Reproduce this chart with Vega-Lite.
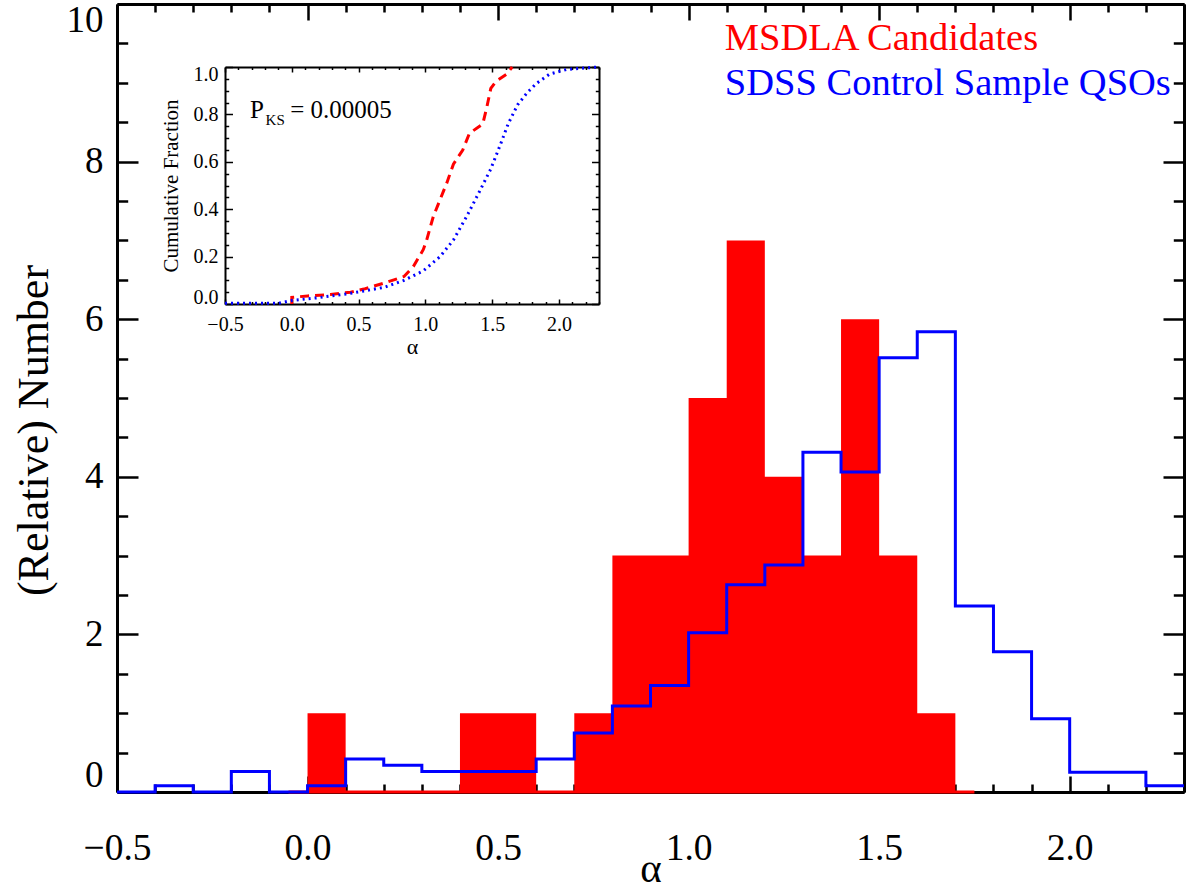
{
  "$schema": "https://vega.github.io/schema/vega-lite/v6.json",
  "width": 1067,
  "height": 788,
  "autosize": {"type": "none"},
  "padding": {"left": 117, "top": 4, "right": 7, "bottom": 98},
  "background": "white",
  "config": {"view": {"stroke": null}, "font": "Liberation Serif"},
  "resolve": {"scale": {"x": "independent", "y": "independent"}, "axis": {"x": "independent", "y": "independent"}},
  "layer": [
    {
      "data": {"values": [{"a0": -0.05, "a1": 1.75, "n": 0}]},
      "mark": {"type": "rule", "color": "#ff0000", "strokeWidth": 3},
      "encoding": {
        "x": {"field": "a0", "type": "quantitative", "scale": {"domain": [-0.5, 2.3], "nice": false, "zero": false},
          "axis": {"orient": "bottom", "grid": false, "values": [-0.5,-0.4,-0.3,-0.2,-0.1,0,0.1,0.2,0.3,0.4,0.5,0.6,0.7,0.8,0.9,1,1.1,1.2,1.3,1.4,1.5,1.6,1.7,1.8,1.9,2,2.1,2.2,2.3],
            "labelExpr": "abs(datum.value*2 - round(datum.value*2)) < 0.001 ? format(datum.value, '.1f') : ''",
            "tickSize": {"condition": {"test": "abs(datum.value*2 - round(datum.value*2)) < 0.001", "value": -16}, "value": -8},
            "tickWidth": 2.5, "tickColor": "black", "domainColor": "black", "domainWidth": 3,
            "labelFont": "Liberation Serif", "labelFontSize": 37.5, "labelColor": "black", "labelPadding": 72, "labelBaseline": "middle", "labelFlush": false, "labelOverlap": false,
            "title": "α", "titleFont": "Liberation Serif", "titleFontSize": 41, "titleFontWeight": "normal", "titleColor": "black", "titleX": 533.5, "titleY": 89, "titleBaseline": "alphabetic", "titleAlign": "center"}},
        "x2": {"field": "a1"},
        "y": {"field": "n", "type": "quantitative", "scale": {"domain": [0, 10], "nice": false, "zero": false},
          "axis": {"orient": "left", "grid": false, "values": [0,0.5,1,1.5,2,2.5,3,3.5,4,4.5,5,5.5,6,6.5,7,7.5,8,8.5,9,9.5,10],
            "labelExpr": "abs(datum.value/2 - round(datum.value/2)) < 0.001 ? format(datum.value, 'd') : ''",
            "tickSize": {"condition": {"test": "abs(datum.value/2 - round(datum.value/2)) < 0.001", "value": -21}, "value": -10.7},
            "tickWidth": 2.5, "tickColor": "black", "domainColor": "black", "domainWidth": 3,
            "labelFont": "Liberation Serif", "labelFontSize": 37, "labelColor": "black", "labelPadding": 35, "labelFlush": true, "labelFlushOffset": 2, "labelOverlap": false,
            "title": "(Relative) Number", "titleFont": "Liberation Serif", "titleFontSize": 44, "titleFontWeight": "normal", "titleColor": "black", "titleX": -70, "titleY": 426, "titleAngle": 270, "titleBaseline": "alphabetic", "titleAlign": "center"}}
      }
    },
    {
      "data": {"values": [
        {"a": 0.0, "n": 1}, {"a": 0.1, "n": 0}, {"a": 0.2, "n": 0}, {"a": 0.3, "n": 0},
        {"a": 0.4, "n": 1}, {"a": 0.5, "n": 1}, {"a": 0.6, "n": 0}, {"a": 0.7, "n": 1},
        {"a": 0.8, "n": 3}, {"a": 0.9, "n": 3}, {"a": 1.0, "n": 5}, {"a": 1.1, "n": 7},
        {"a": 1.2, "n": 4}, {"a": 1.3, "n": 3}, {"a": 1.4, "n": 6}, {"a": 1.5, "n": 3},
        {"a": 1.6, "n": 1}, {"a": 1.7, "n": 0}
      ]},
      "mark": {"type": "area", "interpolate": "step-after", "color": "#ff0000", "opacity": 1},
      "encoding": {
        "x": {"field": "a", "type": "quantitative", "scale": {"domain": [-0.5, 2.3], "nice": false, "zero": false},
          "axis": {"orient": "top", "grid": false, "labels": false, "title": null, "values": [-0.5,-0.4,-0.3,-0.2,-0.1,0,0.1,0.2,0.3,0.4,0.5,0.6,0.7,0.8,0.9,1,1.1,1.2,1.3,1.4,1.5,1.6,1.7,1.8,1.9,2,2.1,2.2,2.3],
            "tickSize": {"condition": {"test": "abs(datum.value*2 - round(datum.value*2)) < 0.001", "value": -16}, "value": -8},
            "tickWidth": 2.5, "tickColor": "black", "domainColor": "black", "domainWidth": 3}},
        "y": {"field": "n", "type": "quantitative", "scale": {"domain": [0, 10], "nice": false, "zero": false},
          "axis": {"orient": "right", "grid": false, "labels": false, "title": null, "values": [0,0.5,1,1.5,2,2.5,3,3.5,4,4.5,5,5.5,6,6.5,7,7.5,8,8.5,9,9.5,10],
            "tickSize": {"condition": {"test": "abs(datum.value/2 - round(datum.value/2)) < 0.001", "value": -21}, "value": -10.7},
            "tickWidth": 2.5, "tickColor": "black", "domainColor": "black", "domainWidth": 3}}
      }
    },
    {
      "data": {"values": [
        {"a": -0.5, "v": 0}, {"a": -0.4, "v": 0.08}, {"a": -0.3, "v": 0}, {"a": -0.2, "v": 0.26},
        {"a": -0.1, "v": 0}, {"a": 0.0, "v": 0.08}, {"a": 0.1, "v": 0.42}, {"a": 0.2, "v": 0.34},
        {"a": 0.3, "v": 0.26}, {"a": 0.4, "v": 0.26}, {"a": 0.5, "v": 0.26}, {"a": 0.6, "v": 0.42},
        {"a": 0.7, "v": 0.75}, {"a": 0.8, "v": 1.09}, {"a": 0.9, "v": 1.35}, {"a": 1.0, "v": 2.02},
        {"a": 1.1, "v": 2.63}, {"a": 1.2, "v": 2.88}, {"a": 1.3, "v": 4.31}, {"a": 1.4, "v": 4.06},
        {"a": 1.5, "v": 5.51}, {"a": 1.6, "v": 5.84}, {"a": 1.7, "v": 2.36}, {"a": 1.8, "v": 1.78},
        {"a": 1.9, "v": 0.93}, {"a": 2.0, "v": 0.25}, {"a": 2.1, "v": 0.25}, {"a": 2.2, "v": 0.08},
        {"a": 2.3, "v": 0.08}
      ]},
      "mark": {"type": "line", "interpolate": "step-after", "color": "#0000ff", "strokeWidth": 3, "strokeJoin": "miter", "strokeCap": "butt"},
      "encoding": {
        "x": {"field": "a", "type": "quantitative", "scale": {"domain": [-0.5, 2.3], "nice": false, "zero": false}, "axis": null},
        "y": {"field": "v", "type": "quantitative", "scale": {"domain": [0, 10], "nice": false, "zero": false}, "axis": null}
      }
    },
    {
      "data": {"values": [
        {"a": 1.095, "y": 9.42, "label": "MSDLA Candidates"},
        {"a": 1.095, "y": 8.85, "label": "SDSS Control Sample QSOs"}
      ]},
      "mark": {"type": "text", "align": "left", "baseline": "alphabetic", "font": "Liberation Serif", "fontSize": 38.5},
      "encoding": {
        "x": {"field": "a", "type": "quantitative", "scale": {"domain": [-0.5, 2.3], "nice": false, "zero": false}, "axis": null},
        "y": {"field": "y", "type": "quantitative", "scale": {"domain": [0, 10], "nice": false, "zero": false}, "axis": null},
        "text": {"field": "label"},
        "color": {"field": "label", "type": "nominal", "scale": {"domain": ["MSDLA Candidates", "SDSS Control Sample QSOs"], "range": ["#ff0000", "#0000ff"]}, "legend": null}
      }
    },
    {
      "data": {"values": [
        {"i": 0, "a": 0.0, "f": 0.0}, {"i": 1, "a": 0.0, "f": 0.028}, {"i": 2, "a": 0.12, "f": 0.034},
        {"i": 3, "a": 0.29, "f": 0.04}, {"i": 4, "a": 0.44, "f": 0.05}, {"i": 5, "a": 0.54, "f": 0.063},
        {"i": 6, "a": 0.69, "f": 0.088}, {"i": 7, "a": 0.84, "f": 0.116}, {"i": 8, "a": 0.91, "f": 0.158},
        {"i": 9, "a": 0.985, "f": 0.23}, {"i": 10, "a": 1.01, "f": 0.27}, {"i": 11, "a": 1.06, "f": 0.37},
        {"i": 12, "a": 1.11, "f": 0.44}, {"i": 13, "a": 1.16, "f": 0.51}, {"i": 14, "a": 1.21, "f": 0.59},
        {"i": 15, "a": 1.28, "f": 0.65}, {"i": 16, "a": 1.33, "f": 0.72}, {"i": 17, "a": 1.43, "f": 0.76},
        {"i": 18, "a": 1.46, "f": 0.83}, {"i": 19, "a": 1.49, "f": 0.91}, {"i": 20, "a": 1.53, "f": 0.94},
        {"i": 21, "a": 1.61, "f": 0.97}, {"i": 22, "a": 1.65, "f": 1.0}
      ]},
      "mark": {"type": "line", "color": "#ff0000", "strokeWidth": 3, "strokeDash": [9, 6]},
      "encoding": {
        "order": {"field": "i", "type": "quantitative"},
        "x": {"field": "a", "type": "quantitative", "scale": {"domain": [-0.5, 2.3], "range": [108, 482], "nice": false, "zero": false},
          "axis": {"orient": "bottom", "offset": -488, "grid": false, "values": [-0.5,-0.4,-0.3,-0.2,-0.1,0,0.1,0.2,0.3,0.4,0.5,0.6,0.7,0.8,0.9,1,1.1,1.2,1.3,1.4,1.5,1.6,1.7,1.8,1.9,2,2.1,2.2,2.3],
            "labelExpr": "abs(datum.value*2 - round(datum.value*2)) < 0.001 ? format(datum.value, '.1f') : ''",
            "tickSize": {"condition": {"test": "abs(datum.value*2 - round(datum.value*2)) < 0.001", "value": -5}, "value": -2.5},
            "tickWidth": 1.5, "tickColor": "black", "domainColor": "black", "domainWidth": 2,
            "labelFont": "Liberation Serif", "labelFontSize": 20, "labelColor": "black", "labelPadding": 25, "labelBaseline": "middle", "labelFlush": false, "labelOverlap": false,
            "title": "α", "titleFont": "Liberation Serif", "titleFontSize": 22, "titleFontWeight": "normal", "titleColor": "black", "titleX": 295, "titleY": 49, "titleBaseline": "alphabetic", "titleAlign": "center"}},
        "y": {"field": "f", "type": "quantitative", "scale": {"domain": [0, 1], "range": [300, 63], "nice": false, "zero": false},
          "axis": {"orient": "left", "offset": -108, "grid": false, "values": [0,0.05,0.1,0.15,0.2,0.25,0.3,0.35,0.4,0.45,0.5,0.55,0.6,0.65,0.7,0.75,0.8,0.85,0.9,0.95,1],
            "labelExpr": "abs(datum.value*5 - round(datum.value*5)) < 0.001 ? format(datum.value, '.1f') : ''",
            "tickSize": {"condition": {"test": "abs(datum.value*5 - round(datum.value*5)) < 0.001", "value": -7.5}, "value": -3.7},
            "tickWidth": 1.5, "tickColor": "black", "domainColor": "black", "domainWidth": 2,
            "labelFont": "Liberation Serif", "labelFontSize": 20, "labelColor": "black", "labelPadding": 14.5, "labelFlush": true, "labelFlushOffset": 3, "labelOverlap": false,
            "title": "Cumulative Fraction", "titleFont": "Liberation Serif", "titleFontSize": 21, "titleFontWeight": "normal", "titleColor": "black", "titleX": -48, "titleY": 181.5, "titleAngle": 270, "titleBaseline": "alphabetic", "titleAlign": "center"}}
      }
    },
    {
      "data": {"values": [
        {"a": -0.5, "f": 0.003}, {"a": -0.1, "f": 0.003}, {"a": 0.0, "f": 0.015}, {"a": 0.19, "f": 0.026},
        {"a": 0.44, "f": 0.045}, {"a": 0.69, "f": 0.07}, {"a": 0.84, "f": 0.1}, {"a": 0.985, "f": 0.14},
        {"a": 1.11, "f": 0.2}, {"a": 1.21, "f": 0.27}, {"a": 1.31, "f": 0.37}, {"a": 1.41, "f": 0.48},
        {"a": 1.49, "f": 0.57}, {"a": 1.56, "f": 0.67}, {"a": 1.62, "f": 0.76}, {"a": 1.69, "f": 0.84},
        {"a": 1.76, "f": 0.89}, {"a": 1.83, "f": 0.93}, {"a": 1.93, "f": 0.97}, {"a": 2.06, "f": 0.99},
        {"a": 2.3, "f": 1.0}
      ]},
      "mark": {"type": "line", "color": "#0000ff", "strokeWidth": 3, "strokeDash": [2, 4]},
      "encoding": {
        "x": {"field": "a", "type": "quantitative", "scale": {"domain": [-0.5, 2.3], "range": [108, 482], "nice": false, "zero": false},
          "axis": {"orient": "top", "offset": -63, "grid": false, "labels": false, "title": null, "values": [-0.5,-0.4,-0.3,-0.2,-0.1,0,0.1,0.2,0.3,0.4,0.5,0.6,0.7,0.8,0.9,1,1.1,1.2,1.3,1.4,1.5,1.6,1.7,1.8,1.9,2,2.1,2.2,2.3],
            "tickSize": {"condition": {"test": "abs(datum.value*2 - round(datum.value*2)) < 0.001", "value": -5}, "value": -2.5},
            "tickWidth": 1.5, "tickColor": "black", "domainColor": "black", "domainWidth": 2}},
        "y": {"field": "f", "type": "quantitative", "scale": {"domain": [0, 1], "range": [300, 63], "nice": false, "zero": false},
          "axis": {"orient": "right", "offset": -585, "grid": false, "labels": false, "title": null, "values": [0,0.05,0.1,0.15,0.2,0.25,0.3,0.35,0.4,0.45,0.5,0.55,0.6,0.65,0.7,0.75,0.8,0.85,0.9,0.95,1],
            "tickSize": {"condition": {"test": "abs(datum.value*5 - round(datum.value*5)) < 0.001", "value": -7.5}, "value": -3.7},
            "tickWidth": 1.5, "tickColor": "black", "domainColor": "black", "domainWidth": 2}}
      }
    },
    {
      "data": {"values": [
        {"a": -0.313, "f": 0.785, "t": "P"},
        {"a": -0.012, "f": 0.785, "t": "= 0.00005"}
      ]},
      "mark": {"type": "text", "align": "left", "baseline": "alphabetic", "font": "Liberation Serif", "fontSize": 25, "color": "black"},
      "encoding": {
        "x": {"field": "a", "type": "quantitative", "scale": {"domain": [-0.5, 2.3], "range": [108, 482], "nice": false, "zero": false}, "axis": null},
        "y": {"field": "f", "type": "quantitative", "scale": {"domain": [0, 1], "range": [300, 63], "nice": false, "zero": false}, "axis": null},
        "text": {"field": "t"}
      }
    },
    {
      "data": {"values": [{"a": -0.196, "f": 0.755, "t": "KS"}]},
      "mark": {"type": "text", "align": "left", "baseline": "alphabetic", "font": "Liberation Serif", "fontSize": 15, "color": "black"},
      "encoding": {
        "x": {"field": "a", "type": "quantitative", "scale": {"domain": [-0.5, 2.3], "range": [108, 482], "nice": false, "zero": false}, "axis": null},
        "y": {"field": "f", "type": "quantitative", "scale": {"domain": [0, 1], "range": [300, 63], "nice": false, "zero": false}, "axis": null},
        "text": {"field": "t"}
      }
    }
  ]
}
